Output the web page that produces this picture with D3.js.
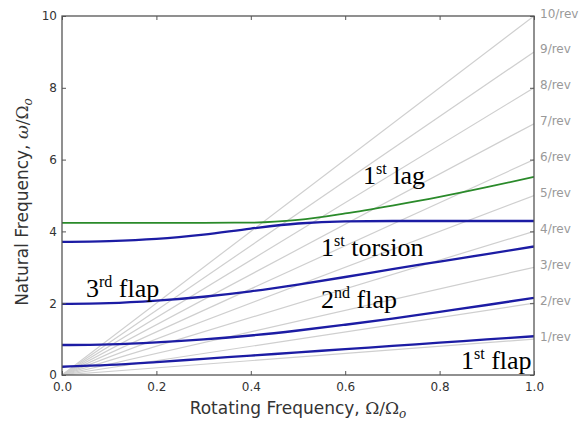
<!DOCTYPE html>
<html>
<head>
<meta charset="utf-8">
<script src="https://cdn.jsdelivr.net/npm/d3@7"></script>
<style>
body { margin: 0; background: #fff; }
</style>
</head>
<body>
<div id="chart"></div>
<script>
// data
var xs = [0, 0.1, 0.2, 0.3, 0.4, 0.5, 0.6, 0.7, 0.8, 0.9, 1.0];
var flap1 = [0.23, 0.28, 0.36, 0.45, 0.54, 0.63, 0.72, 0.81, 0.90, 0.99, 1.08];
var flap2 = [0.835, 0.855, 0.91, 0.99, 1.10, 1.24, 1.40, 1.57, 1.76, 1.95, 2.15];
var flap3 = [1.98, 2.0, 2.07, 2.18, 2.33, 2.52, 2.73, 2.95, 3.16, 3.37, 3.58];
var torsion = [3.71, 3.73, 3.79, 3.91, 4.08, 4.22, 4.28, 4.29, 4.29, 4.29, 4.29];
var lag1 = [4.24, 4.24, 4.24, 4.24, 4.245, 4.32, 4.50, 4.72, 4.96, 5.23, 5.52];
var revs = [1, 2, 3, 4, 5, 6, 7, 8, 9, 10];
var xTicks = [0, 0.2, 0.4, 0.6, 0.8, 1.0];
var yTicks = [0, 2, 4, 6, 8, 10];

var width = 585, height = 421;

var svg = d3.select("#chart")
            .append("svg")
            .attr("width", width)
            .attr("height", height);

var x = d3.scaleLinear().domain([0, 1]).range([62, 534]);
var y = d3.scaleLinear().domain([0, 10]).range([375, 16]);

svg.append("defs").append("clipPath").attr("id", "plot")
   .append("rect")
   .attr("x", x(0)).attr("y", y(10))
   .attr("width", x(1) - x(0)).attr("height", y(0) - y(10));

var plot = svg.append("g").attr("clip-path", "url(#plot)");

// n/rev lines
plot.selectAll("line.rev")
    .data(revs)
    .enter().append("line")
    .attr("class", "rev")
    .attr("x1", x(0)).attr("y1", y(0))
    .attr("x2", x(1)).attr("y2", function(d){ return y(d); })
    .attr("stroke", "#cfcfcf")
    .attr("stroke-width", 1.2);

var line = d3.line()
             .x(function(d, i){ return x(xs[i]); })
             .y(function(d){ return y(d); })
             .curve(d3.curveMonotoneX);

// blade modes
[flap1, flap2, flap3, torsion].forEach(function(s){
  plot.append("path")
      .datum(s)
      .attr("d", line)
      .attr("fill", "none")
      .attr("stroke", "#1c1ca4")
      .attr("stroke-width", 2.3);
});
plot.append("path")
    .datum(lag1)
    .attr("d", line)
    .attr("fill", "none")
    .attr("stroke", "#2a8a2a")
    .attr("stroke-width", 1.8);

// axes, ticks inside on all sides
var axisColor = "#555";
var gBottom = svg.append("g").attr("transform", "translate(0," + y(0) + ")")
  .call(d3.axisBottom(x).tickValues(xTicks).tickFormat(d3.format(".1f"))
          .tickSizeInner(-4).tickSizeOuter(0).tickPadding(7));
var gLeft = svg.append("g").attr("transform", "translate(" + x(0) + ",0)")
  .call(d3.axisLeft(y).tickValues(yTicks).tickFormat(d3.format("d"))
          .tickSizeInner(-4).tickSizeOuter(0).tickPadding(5));
var gTop = svg.append("g").attr("transform", "translate(0," + y(10) + ")")
  .call(d3.axisTop(x).tickValues(xTicks).tickFormat("")
          .tickSizeInner(-4).tickSizeOuter(0));
var gRight = svg.append("g").attr("transform", "translate(" + x(1) + ",0)")
  .call(d3.axisRight(y).tickValues(yTicks).tickFormat("")
          .tickSizeInner(-4).tickSizeOuter(0));

[gBottom, gLeft, gTop, gRight].forEach(function(g){
  g.select(".domain").remove();
  g.selectAll(".tick line").attr("stroke", axisColor);
  g.selectAll(".tick text")
   .attr("fill", "#333")
   .attr("font-family", "DejaVu Sans")
   .attr("font-size", 12);
});

svg.append("rect")
   .attr("x", x(0)).attr("y", y(10))
   .attr("width", x(1) - x(0)).attr("height", y(0) - y(10))
   .attr("fill", "none")
   .attr("stroke", axisColor)
   .attr("stroke-width", 1.3);

// n/rev labels on the right
svg.selectAll("text.revlabel")
   .data(revs)
   .enter().append("text")
   .attr("class", "revlabel")
   .attr("x", x(1) + 6)
   .attr("y", function(d){ return y(d) - 2.5; })
   .attr("dominant-baseline", "central")
   .attr("font-family", "DejaVu Sans")
   .attr("font-size", 12)
   .attr("fill", "#999")
   .text(function(d){ return d + "/rev"; });

// axis titles
var xlab = svg.append("text")
   .attr("x", (x(0) + x(1)) / 2)
   .attr("y", 414)
   .attr("text-anchor", "middle")
   .attr("font-family", "DejaVu Sans")
   .attr("font-size", 17)
   .attr("fill", "#333");
xlab.append("tspan").text("Rotating Frequency, ");
xlab.append("tspan").attr("font-family", "DejaVu Serif").text("Ω/Ω");
xlab.append("tspan").attr("font-family", "DejaVu Serif").attr("font-style", "italic")
    .attr("font-size", 12).attr("dy", 4).text("o");

var ylab = svg.append("text")
   .attr("transform", "translate(28,202) rotate(-90)")
   .attr("text-anchor", "middle")
   .attr("font-family", "DejaVu Sans")
   .attr("font-size", 17)
   .attr("fill", "#333");
ylab.append("tspan").text("Natural Frequency, ");
ylab.append("tspan").attr("font-family", "DejaVu Serif").attr("font-style", "italic").text("ω");
ylab.append("tspan").attr("font-family", "DejaVu Serif").text("/Ω");
ylab.append("tspan").attr("font-family", "DejaVu Serif").attr("font-style", "italic")
    .attr("font-size", 12).attr("dy", 4).text("o");

// mode annotations
function modeLabel(px, py, num, sup, rest){
  var t = svg.append("text")
     .attr("x", px).attr("y", py)
     .attr("font-family", "Liberation Serif, Times New Roman, serif")
     .attr("font-size", 26)
     .attr("fill", "#000");
  t.append("tspan").text(num);
  t.append("tspan").attr("font-size", 16).attr("dy", -10).text(sup);
  t.append("tspan").attr("dy", 10).text(" " + rest);
}
modeLabel(363, 184, "1", "st", "lag");
modeLabel(321, 256, "1", "st", "torsion");
modeLabel(86, 297, "3", "rd", "flap");
modeLabel(321, 308, "2", "nd", "flap");
modeLabel(461, 369, "1", "st", "flap");
</script>
</body>
</html>
